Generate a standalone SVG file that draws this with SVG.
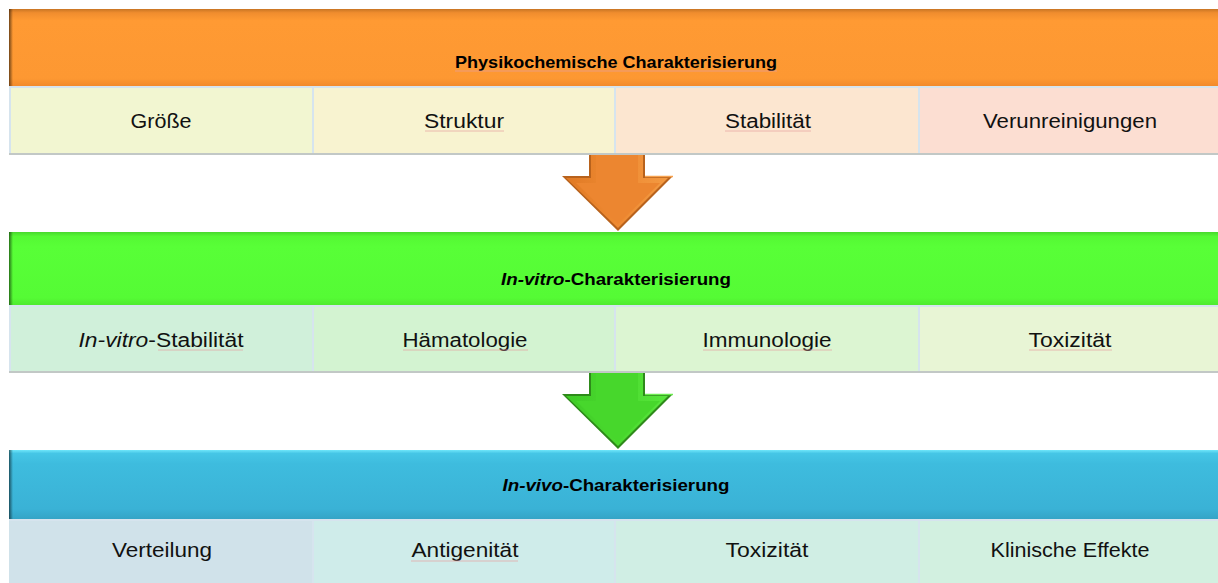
<svg xmlns="http://www.w3.org/2000/svg" width="1218" height="583" viewBox="0 0 1218 583">
  <defs>
    <linearGradient id="gOrange" x1="0" y1="0" x2="0" y2="1">
      <stop offset="0" stop-color="#C87524"/>
      <stop offset="0.05" stop-color="#F08D2E"/>
      <stop offset="0.15" stop-color="#FF9A33"/>
      <stop offset="0.9" stop-color="#FD9832"/>
      <stop offset="1" stop-color="#F28A2B"/>
    </linearGradient>
    <linearGradient id="gGreen" x1="0" y1="0" x2="0" y2="1">
      <stop offset="0" stop-color="#48D82C"/>
      <stop offset="0.06" stop-color="#55F834"/>
      <stop offset="0.2" stop-color="#58FF37"/>
      <stop offset="0.9" stop-color="#55FB35"/>
      <stop offset="1" stop-color="#4EEA2F"/>
    </linearGradient>
    <linearGradient id="gBlue" x1="0" y1="0" x2="0" y2="1">
      <stop offset="0" stop-color="#6FE6FA"/>
      <stop offset="0.05" stop-color="#45C6E6"/>
      <stop offset="0.2" stop-color="#3EBCDE"/>
      <stop offset="0.85" stop-color="#3AB2D6"/>
      <stop offset="1" stop-color="#34A4C6"/>
    </linearGradient>
    <linearGradient id="edgeL" x1="0" y1="0" x2="1" y2="0">
      <stop offset="0" stop-color="#000" stop-opacity="0.55"/>
      <stop offset="1" stop-color="#000" stop-opacity="0"/>
    </linearGradient>
    <linearGradient id="aOrange" x1="0" y1="0" x2="1" y2="0">
      <stop offset="0" stop-color="#E07A25"/>
      <stop offset="0.5" stop-color="#EE8A32"/>
      <stop offset="1" stop-color="#F39A42"/>
    </linearGradient>
    <linearGradient id="aGreen" x1="0" y1="0" x2="1" y2="0">
      <stop offset="0" stop-color="#3FCB27"/>
      <stop offset="0.5" stop-color="#4AD92E"/>
      <stop offset="1" stop-color="#58E63C"/>
    </linearGradient>
    <style>
      .hdr { font-family: "Liberation Sans", Arial, sans-serif; font-weight: bold; font-size: 16.5px; fill: #000; text-anchor: middle; }
      .cell-t { font-family: "Liberation Sans", Arial, sans-serif; font-size: 19.5px; fill: #111; text-anchor: middle; }
      .div { stroke: #D6E4EE; stroke-width: 2; }
      .base { stroke: #C2C8C6; stroke-width: 2; }
      .sp { stroke: #E6A0A0; stroke-width: 1; fill: none; opacity: 0.7; }
    </style>
  </defs>

  <rect width="1218" height="583" fill="#FFFFFF"/>

  <!-- Stage 1: physicochemical -->
  <g id="stage-physchem">
    <rect x="9" y="9" width="1209" height="77" fill="url(#gOrange)"/>
    <rect x="9" y="9" width="4" height="77" fill="url(#edgeL)"/>
    <text class="hdr" x="616" y="68" textLength="322" lengthAdjust="spacingAndGlyphs">Physikochemische Charakterisierung</text>
    <line class="sp" x1="455" y1="71" x2="777" y2="71" opacity="0.3"/>
  </g>
  <g id="cells-physchem">
    <rect x="9" y="86" width="304" height="68" fill="#F2F6D1"/>
    <rect x="313" y="86" width="302" height="68" fill="#F8F3D0"/>
    <rect x="615" y="86" width="304" height="68" fill="#FCE6D0"/>
    <rect x="919" y="86" width="299" height="68" fill="#FCDED2"/>
    <line class="div" x1="9" y1="87" x2="1218" y2="87"/>
    <line class="div" x1="10" y1="87" x2="10" y2="154"/>
    <line class="div" x1="313" y1="87" x2="313" y2="154"/>
    <line class="div" x1="615" y1="87" x2="615" y2="154"/>
    <line class="div" x1="919" y1="87" x2="919" y2="154"/>
    <line class="base" x1="9" y1="154" x2="1218" y2="154"/>
    <text class="cell-t" x="161" y="128" textLength="61" lengthAdjust="spacingAndGlyphs">Größe</text>
    <text class="cell-t" x="464" y="128" textLength="80" lengthAdjust="spacingAndGlyphs">Struktur</text>
    <line class="sp" x1="425" y1="131" x2="504" y2="131"/>
    <text class="cell-t" x="768" y="128" textLength="86" lengthAdjust="spacingAndGlyphs">Stabilität</text>
    <line class="sp" x1="725" y1="131" x2="811" y2="131"/>
    <text class="cell-t" x="1070" y="128" textLength="174" lengthAdjust="spacingAndGlyphs">Verunreinigungen</text>
  </g>

  <!-- Stage 2: in vitro -->
  <g id="stage-invitro">
    <rect x="9" y="232" width="1209" height="73" fill="url(#gGreen)"/>
    <rect x="9" y="232" width="4" height="73" fill="url(#edgeL)"/>
    <text class="hdr" x="616" y="285" textLength="230" lengthAdjust="spacingAndGlyphs"><tspan font-style="italic">In-vitro</tspan>-Charakterisierung</text>
  </g>
  <g id="cells-invitro">
    <rect x="9" y="305" width="304" height="67" fill="#D0F0DA"/>
    <rect x="313" y="305" width="302" height="67" fill="#D3F3D1"/>
    <rect x="615" y="305" width="304" height="67" fill="#DCF5D2"/>
    <rect x="919" y="305" width="299" height="67" fill="#E8F5D5"/>
    <line class="div" x1="9" y1="306" x2="1218" y2="306"/>
    <line class="div" x1="10" y1="306" x2="10" y2="372"/>
    <line class="div" x1="313" y1="306" x2="313" y2="372"/>
    <line class="div" x1="615" y1="306" x2="615" y2="372"/>
    <line class="div" x1="919" y1="306" x2="919" y2="372"/>
    <line class="base" x1="9" y1="372" x2="1218" y2="372" stroke="#BFD8C8"/>
    <text class="cell-t" x="161" y="347" textLength="165" lengthAdjust="spacingAndGlyphs"><tspan font-style="italic">In-vitro</tspan>-Stabilität</text>
    <line class="sp" x1="158" y1="350" x2="243" y2="350"/>
    <text class="cell-t" x="465" y="347" textLength="125" lengthAdjust="spacingAndGlyphs">Hämatologie</text>
    <line class="sp" x1="403" y1="350" x2="528" y2="350"/>
    <text class="cell-t" x="767" y="347" textLength="129" lengthAdjust="spacingAndGlyphs">Immunologie</text>
    <line class="sp" x1="703" y1="350" x2="832" y2="350"/>
    <text class="cell-t" x="1070" y="347" textLength="83" lengthAdjust="spacingAndGlyphs">Toxizität</text>
    <line class="sp" x1="1029" y1="350" x2="1112" y2="350"/>
  </g>

  <!-- Stage 3: in vivo -->
  <g id="stage-invivo">
    <rect x="9" y="450" width="1209" height="69" fill="url(#gBlue)"/>
    <rect x="9" y="450" width="4" height="69" fill="url(#edgeL)"/>
    <text class="hdr" x="616" y="491" textLength="227" lengthAdjust="spacingAndGlyphs"><tspan font-style="italic">In-vivo</tspan>-Charakterisierung</text>
  </g>
  <g id="cells-invivo">
    <rect x="9" y="519" width="304" height="64" fill="#D0E2EA"/>
    <rect x="313" y="519" width="302" height="64" fill="#CFECEA"/>
    <rect x="615" y="519" width="304" height="64" fill="#D0EEE4"/>
    <rect x="919" y="519" width="299" height="64" fill="#D2F0E0"/>
    <line class="div" x1="9" y1="520" x2="1218" y2="520"/>
    <line class="div" x1="313" y1="520" x2="313" y2="583"/>
    <line class="div" x1="615" y1="520" x2="615" y2="583"/>
    <line class="div" x1="919" y1="520" x2="919" y2="583"/>
    <text class="cell-t" x="162" y="557" textLength="100" lengthAdjust="spacingAndGlyphs">Verteilung</text>
    <text class="cell-t" x="465" y="557" textLength="107" lengthAdjust="spacingAndGlyphs">Antigenität</text>
    <line class="sp" x1="411" y1="561" x2="518" y2="561"/>
    <text class="cell-t" x="767" y="557" textLength="83" lengthAdjust="spacingAndGlyphs">Toxizität</text>
    <text class="cell-t" x="1070" y="557" textLength="159" lengthAdjust="spacingAndGlyphs">Klinische Effekte</text>
  </g>

  <!-- Connectors: block arrows between stages -->
  <g id="connectors">
    <g id="arrow-1">
      <polygon points="589,155 645,155 645,176 673,176 618,231 562,176 589,176" fill="#B8621C"/>
      <polygon points="591,155 643,155 643,178 668,178 618,228 566,178 591,178" fill="url(#aOrange)"/>
      <polygon points="596,155 638,155 638,183 660,183 618,224 576,183 596,183" fill="#EC8630"/>
      <line x1="645" y1="176.5" x2="673" y2="176.5" stroke="#F7A24E" stroke-width="1.5"/>
    </g>
    <g id="arrow-2">
      <polygon points="589,373 645,373 645,394 673,394 618,449 562,394 589,394" fill="#2E8A1A"/>
      <polygon points="591,373 643,373 643,396 668,396 618,446 566,396 591,396" fill="url(#aGreen)"/>
      <polygon points="596,373 638,373 638,401 660,401 618,442 576,401 596,401" fill="#47D72C"/>
      <line x1="645" y1="394.5" x2="673" y2="394.5" stroke="#6CEB50" stroke-width="1.5"/>
    </g>
  </g>
</svg>
